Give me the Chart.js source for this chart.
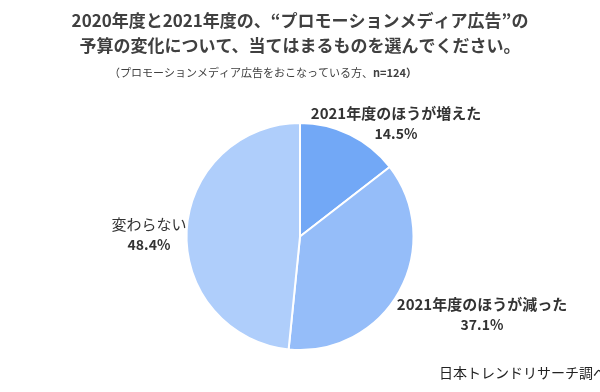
<!DOCTYPE html>
<html><head><meta charset="utf-8">
<script src="https://cdn.jsdelivr.net/npm/chart.js@4/dist/chart.umd.min.js"></script>
<style>html,body{margin:0;padding:0;background:#fff}#wrap{width:600px;height:392px}</style>
</head><body><div id="wrap"><canvas id="c" width="600" height="392"></canvas></div>
<script>
const categories = ['2021年度のほうが増えた', '2021年度のほうが減った', '変わらない'];
const shares = [14.5, 37.1, 48.4];
const sliceColors = ['#72a8f6', '#95bdf9', '#afcefb'];
const titleLines = ['2020年度と2021年度の、“プロモーションメディア広告”の', '予算の変化について、当てはまるものを選んでください。'];
const subtitleText = '（プロモーションメディア広告をおこなっている方、';
const subtitleN = 'n=124）';
const footerText = '日本トレンドリサーチ調べ';

const FONT = '"Noto Sans CJK JP", "Noto Sans", sans-serif';
// label offsets relative to pie centre (layout only)
const labelOffsets = [[96, -123], [182, 68], [-151, -12]];

const textPlugin = {
  id: 'texts',
  afterDraw(chart) {
    const ctx = chart.ctx;
    ctx.save();
    ctx.textBaseline = 'middle';
    ctx.textAlign = 'center';
    ctx.fillStyle = '#404040';
    ctx.font = 'bold 17px ' + FONT;
    ctx.fillText(titleLines[0], 300, 21);
    ctx.fillText(titleLines[1], 300, 46);
    // subtitle with bold n=124
    ctx.font = '11px ' + FONT;
    const w1 = ctx.measureText(subtitleText).width;
    ctx.font = 'bold 11px ' + FONT;
    const w2 = ctx.measureText(subtitleN).width;
    let x = 263 - (w1 + w2) / 2;
    ctx.textAlign = 'left';
    ctx.font = '11px ' + FONT;
    ctx.fillText(subtitleText, x, 73);
    ctx.font = 'bold 11px ' + FONT;
    ctx.fillText(subtitleN, x + w1, 73);

    // slice labels
    const meta = chart.getDatasetMeta(0);
    const arc0 = meta.data[0];
    const cx = arc0.x, cy = arc0.y;
    ctx.textAlign = 'center';
    ctx.fillStyle = '#333333';
    meta.data.forEach((arc, i) => {
      const lx = cx + labelOffsets[i][0];
      const ly = cy + labelOffsets[i][1];
      ctx.font = (i === 2 ? '' : 'bold ') + '15px ' + FONT;
      ctx.fillText(chart.data.labels[i], lx, ly);
      ctx.font = 'bold 14px ' + FONT;
      ctx.fillText(chart.data.datasets[0].data[i].toFixed(1) + '%', lx, ly + 20);
    });

    // footer
    ctx.textAlign = 'left';
    ctx.fillStyle = '#222222';
    ctx.font = '14px ' + FONT;
    ctx.fillText(footerText, 439, 373);
    ctx.restore();
  }
};

new Chart(document.getElementById('c'), {
  type: 'pie',
  data: {
    labels: categories,
    datasets: [{
      data: shares,
      backgroundColor: sliceColors,
      borderColor: '#ffffff',
      borderWidth: 2
    }]
  },
  options: {
    responsive: false,
    animation: false,
    layout: { padding: { top: 122, bottom: 41, left: 0, right: 0 } },
    plugins: {
      legend: { display: false },
      tooltip: { enabled: false },
      title: { display: false }
    }
  },
  plugins: [textPlugin]
});
</script>
</body></html>
